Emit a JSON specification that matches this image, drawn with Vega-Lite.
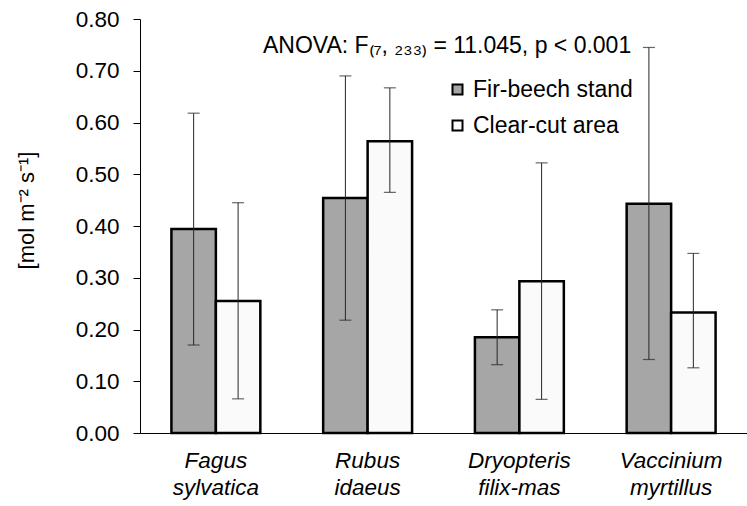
{
  "$schema": "https://vega.github.io/schema/vega-lite/v6.json",
  "autosize": "none",
  "width": 607,
  "height": 414,
  "padding": {"left": 140, "top": 19, "right": 0, "bottom": 73},
  "background": "white",
  "config": {
    "font": "Liberation Sans",
    "view": {"stroke": null}
  },
  "title": {
    "text": "ANOVA: F₍₇, ₂₃₃₎ = 11.045, p < 0.001",
    "anchor": "start",
    "frame": "group",
    "dx": 123,
    "offset": -50,
    "fontSize": 23,
    "fontWeight": "normal",
    "color": "#000000",
    "font": "Liberation Sans"
  },
  "data": {
    "values": [
      {"species": "Fagus sylvatica", "site": "Fir-beech stand", "mean": 0.394, "lo": 0.170, "hi": 0.618},
      {"species": "Fagus sylvatica", "site": "Clear-cut area", "mean": 0.255, "lo": 0.066, "hi": 0.445},
      {"species": "Rubus idaeus", "site": "Fir-beech stand", "mean": 0.454, "lo": 0.218, "hi": 0.690},
      {"species": "Rubus idaeus", "site": "Clear-cut area", "mean": 0.564, "lo": 0.465, "hi": 0.667},
      {"species": "Dryopteris filix-mas", "site": "Fir-beech stand", "mean": 0.185, "lo": 0.132, "hi": 0.238},
      {"species": "Dryopteris filix-mas", "site": "Clear-cut area", "mean": 0.293, "lo": 0.065, "hi": 0.522},
      {"species": "Vaccinium myrtillus", "site": "Fir-beech stand", "mean": 0.443, "lo": 0.142, "hi": 0.745},
      {"species": "Vaccinium myrtillus", "site": "Clear-cut area", "mean": 0.233, "lo": 0.126, "hi": 0.347}
    ]
  },
  "encoding": {
    "x": {
      "field": "species",
      "type": "nominal",
      "sort": ["Fagus sylvatica", "Rubus idaeus", "Dryopteris filix-mas", "Vaccinium myrtillus"],
      "scale": {"paddingInner": 0.414, "paddingOuter": 0.207},
      "axis": {
        "title": null,
        "labelAngle": 0,
        "labelExpr": "split(datum.label, ' ')",
        "labelFontSize": 22.5,
        "labelFontStyle": "italic",
        "labelColor": "#000000",
        "labelLineHeight": 27,
        "labelPadding": 16,
        "ticks": false,
        "domainColor": "#000000",
        "domainWidth": 1
      }
    },
    "xOffset": {
      "field": "site",
      "type": "nominal",
      "sort": ["Fir-beech stand", "Clear-cut area"],
      "scale": {"paddingInner": 0, "paddingOuter": 0}
    }
  },
  "layer": [
    {
      "mark": {"type": "bar", "stroke": "#000000", "strokeWidth": 2.5},
      "encoding": {
        "y": {
          "field": "mean",
          "type": "quantitative",
          "scale": {"domain": [0, 0.8]},
          "axis": {
            "title": "[mol m⁻² s⁻¹]",
            "titleFontSize": 22,
            "titleFontWeight": "normal",
            "titleColor": "#000000",
            "titleX": -107,
            "titleY": 191,
            "titleBaseline": "alphabetic",
            "format": ".2f",
            "values": [0, 0.1, 0.2, 0.3, 0.4, 0.5, 0.6, 0.7, 0.8],
            "labelFontSize": 22.5,
            "labelColor": "#000000",
            "labelPadding": 14,
            "tickSize": 7,
            "tickColor": "#000000",
            "domainColor": "#000000",
            "grid": false
          }
        },
        "fill": {
          "field": "site",
          "type": "nominal",
          "sort": ["Fir-beech stand", "Clear-cut area"],
          "scale": {"domain": ["Fir-beech stand", "Clear-cut area"], "range": ["#a6a6a6", "#fafafa"]},
          "legend": {
            "title": null,
            "orient": "none",
            "legendX": 306,
            "legendY": 59,
            "symbolType": "square",
            "symbolSize": 100,
            "symbolStrokeColor": "#000000",
            "symbolStrokeWidth": 2,
            "labelFontSize": 23,
            "labelColor": "#000000",
            "labelOffset": 4,
            "rowPadding": 12
          }
        }
      }
    },
    {
      "mark": {"type": "rule", "color": "#262626", "strokeWidth": 1},
      "encoding": {
        "y": {"field": "lo", "type": "quantitative"},
        "y2": {"field": "hi"}
      }
    },
    {
      "mark": {"type": "tick", "color": "#262626", "thickness": 1.2, "size": 12},
      "encoding": {
        "y": {"field": "lo", "type": "quantitative"}
      }
    },
    {
      "mark": {"type": "tick", "color": "#262626", "thickness": 1.2, "size": 12},
      "encoding": {
        "y": {"field": "hi", "type": "quantitative"}
      }
    }
  ]
}
